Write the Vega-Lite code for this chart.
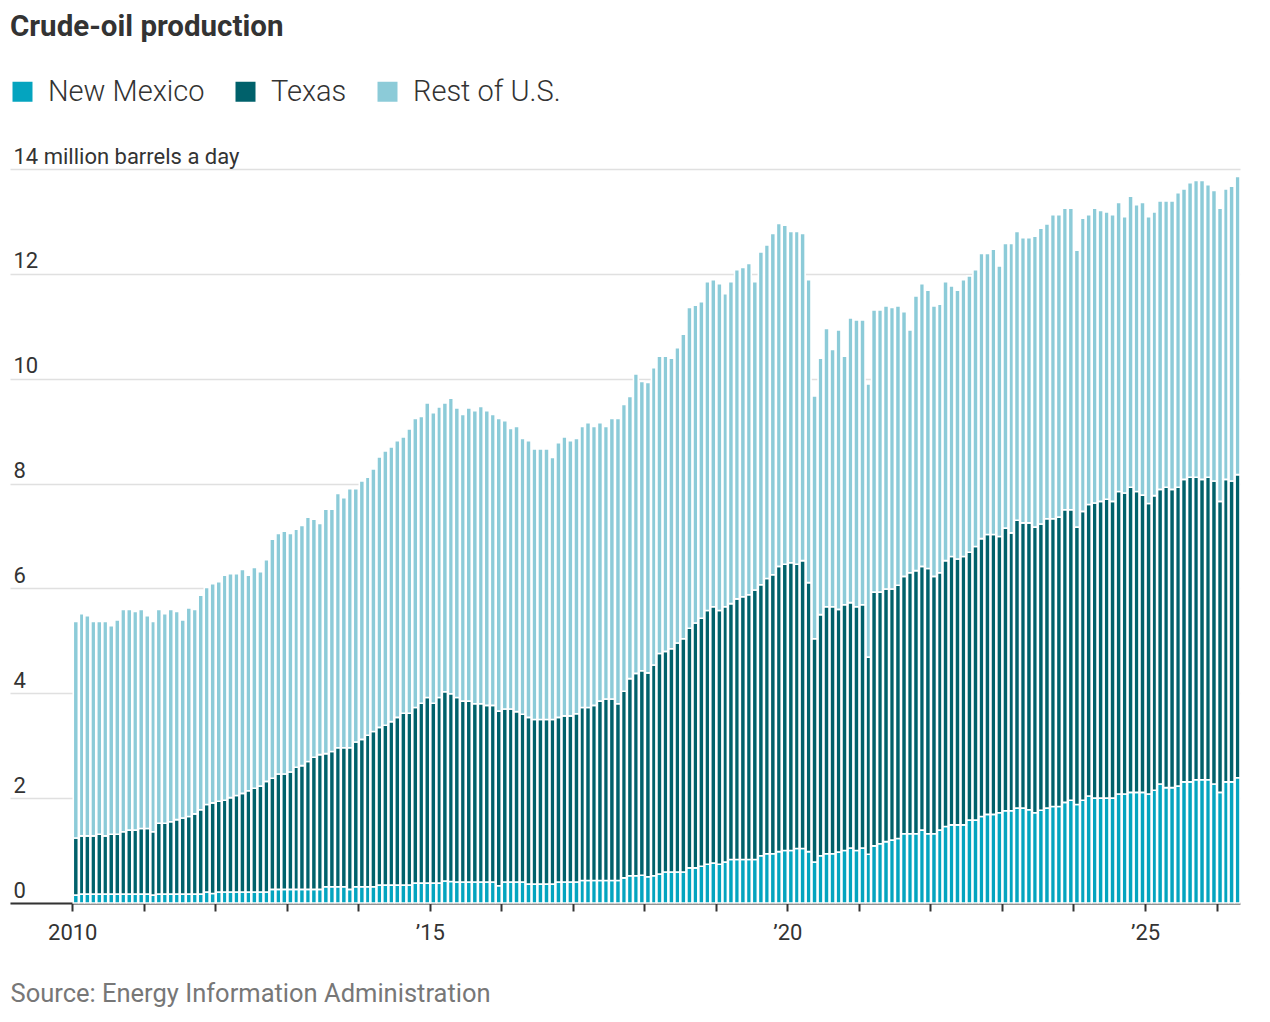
{
  "$schema": "https://vega.github.io/schema/vega-lite/v6.json",
  "width": 1230,
  "height": 734,
  "autosize": {"type": "none"},
  "padding": {"left": 10, "top": 169, "right": 30, "bottom": 119},
  "background": "white",
  "title": {
    "text": "Crude-oil production",
    "anchor": "start",
    "frame": "group",
    "font": "Roboto",
    "fontSize": 29.5,
    "fontWeight": "bold",
    "color": "#333333",
    "offset": 35
  },
  "config": {
    "view": {"stroke": null},
    "font": "Roboto"
  },
  "data": {
    "values": [
      {"d": "2010-01-01", "nm": 0.15, "tx": 1.09, "us": 4.13},
      {"d": "2010-02-01", "nm": 0.17, "tx": 1.11, "us": 4.24},
      {"d": "2010-03-01", "nm": 0.17, "tx": 1.11, "us": 4.20},
      {"d": "2010-04-01", "nm": 0.17, "tx": 1.11, "us": 4.09},
      {"d": "2010-05-01", "nm": 0.17, "tx": 1.14, "us": 4.06},
      {"d": "2010-06-01", "nm": 0.17, "tx": 1.11, "us": 4.09},
      {"d": "2010-07-01", "nm": 0.17, "tx": 1.14, "us": 3.98},
      {"d": "2010-08-01", "nm": 0.17, "tx": 1.14, "us": 4.09},
      {"d": "2010-09-01", "nm": 0.17, "tx": 1.19, "us": 4.24},
      {"d": "2010-10-01", "nm": 0.17, "tx": 1.22, "us": 4.21},
      {"d": "2010-11-01", "nm": 0.17, "tx": 1.22, "us": 4.17},
      {"d": "2010-12-01", "nm": 0.17, "tx": 1.25, "us": 4.18},
      {"d": "2011-01-01", "nm": 0.17, "tx": 1.25, "us": 4.06},
      {"d": "2011-02-01", "nm": 0.15, "tx": 1.21, "us": 4.01},
      {"d": "2011-03-01", "nm": 0.17, "tx": 1.35, "us": 4.08},
      {"d": "2011-04-01", "nm": 0.17, "tx": 1.35, "us": 4.00},
      {"d": "2011-05-01", "nm": 0.17, "tx": 1.38, "us": 4.05},
      {"d": "2011-06-01", "nm": 0.17, "tx": 1.42, "us": 3.97},
      {"d": "2011-07-01", "nm": 0.17, "tx": 1.45, "us": 3.78},
      {"d": "2011-08-01", "nm": 0.17, "tx": 1.48, "us": 3.98},
      {"d": "2011-09-01", "nm": 0.17, "tx": 1.53, "us": 3.90},
      {"d": "2011-10-01", "nm": 0.17, "tx": 1.61, "us": 4.09},
      {"d": "2011-11-01", "nm": 0.21, "tx": 1.67, "us": 4.14},
      {"d": "2011-12-01", "nm": 0.18, "tx": 1.73, "us": 4.18},
      {"d": "2012-01-01", "nm": 0.21, "tx": 1.73, "us": 4.19},
      {"d": "2012-02-01", "nm": 0.21, "tx": 1.75, "us": 4.29},
      {"d": "2012-03-01", "nm": 0.21, "tx": 1.80, "us": 4.27},
      {"d": "2012-04-01", "nm": 0.21, "tx": 1.84, "us": 4.23},
      {"d": "2012-05-01", "nm": 0.21, "tx": 1.88, "us": 4.27},
      {"d": "2012-06-01", "nm": 0.21, "tx": 1.93, "us": 4.11},
      {"d": "2012-07-01", "nm": 0.21, "tx": 1.98, "us": 4.21},
      {"d": "2012-08-01", "nm": 0.21, "tx": 2.02, "us": 4.09},
      {"d": "2012-09-01", "nm": 0.21, "tx": 2.11, "us": 4.23},
      {"d": "2012-10-01", "nm": 0.26, "tx": 2.12, "us": 4.56},
      {"d": "2012-11-01", "nm": 0.26, "tx": 2.20, "us": 4.59},
      {"d": "2012-12-01", "nm": 0.26, "tx": 2.20, "us": 4.63},
      {"d": "2013-01-01", "nm": 0.26, "tx": 2.24, "us": 4.55},
      {"d": "2013-02-01", "nm": 0.26, "tx": 2.33, "us": 4.54},
      {"d": "2013-03-01", "nm": 0.26, "tx": 2.36, "us": 4.58},
      {"d": "2013-04-01", "nm": 0.26, "tx": 2.44, "us": 4.66},
      {"d": "2013-05-01", "nm": 0.26, "tx": 2.52, "us": 4.54},
      {"d": "2013-06-01", "nm": 0.26, "tx": 2.57, "us": 4.41},
      {"d": "2013-07-01", "nm": 0.31, "tx": 2.54, "us": 4.66},
      {"d": "2013-08-01", "nm": 0.31, "tx": 2.58, "us": 4.62},
      {"d": "2013-09-01", "nm": 0.31, "tx": 2.65, "us": 4.85},
      {"d": "2013-10-01", "nm": 0.31, "tx": 2.65, "us": 4.77},
      {"d": "2013-11-01", "nm": 0.26, "tx": 2.70, "us": 4.94},
      {"d": "2013-12-01", "nm": 0.31, "tx": 2.76, "us": 4.83},
      {"d": "2014-01-01", "nm": 0.31, "tx": 2.81, "us": 4.93},
      {"d": "2014-02-01", "nm": 0.31, "tx": 2.89, "us": 4.92},
      {"d": "2014-03-01", "nm": 0.31, "tx": 2.96, "us": 5.01},
      {"d": "2014-04-01", "nm": 0.34, "tx": 3.01, "us": 5.16},
      {"d": "2014-05-01", "nm": 0.34, "tx": 3.05, "us": 5.23},
      {"d": "2014-06-01", "nm": 0.34, "tx": 3.12, "us": 5.24},
      {"d": "2014-07-01", "nm": 0.34, "tx": 3.20, "us": 5.28},
      {"d": "2014-08-01", "nm": 0.34, "tx": 3.28, "us": 5.27},
      {"d": "2014-09-01", "nm": 0.34, "tx": 3.28, "us": 5.42},
      {"d": "2014-10-01", "nm": 0.38, "tx": 3.35, "us": 5.51},
      {"d": "2014-11-01", "nm": 0.38, "tx": 3.43, "us": 5.47},
      {"d": "2014-12-01", "nm": 0.38, "tx": 3.54, "us": 5.62},
      {"d": "2015-01-01", "nm": 0.38, "tx": 3.43, "us": 5.54},
      {"d": "2015-02-01", "nm": 0.38, "tx": 3.54, "us": 5.54},
      {"d": "2015-03-01", "nm": 0.42, "tx": 3.61, "us": 5.51},
      {"d": "2015-04-01", "nm": 0.41, "tx": 3.58, "us": 5.64},
      {"d": "2015-05-01", "nm": 0.40, "tx": 3.52, "us": 5.52},
      {"d": "2015-06-01", "nm": 0.40, "tx": 3.45, "us": 5.47},
      {"d": "2015-07-01", "nm": 0.40, "tx": 3.45, "us": 5.59},
      {"d": "2015-08-01", "nm": 0.40, "tx": 3.40, "us": 5.59},
      {"d": "2015-09-01", "nm": 0.40, "tx": 3.40, "us": 5.67},
      {"d": "2015-10-01", "nm": 0.40, "tx": 3.37, "us": 5.62},
      {"d": "2015-11-01", "nm": 0.40, "tx": 3.37, "us": 5.55},
      {"d": "2015-12-01", "nm": 0.33, "tx": 3.33, "us": 5.58},
      {"d": "2016-01-01", "nm": 0.40, "tx": 3.30, "us": 5.50},
      {"d": "2016-02-01", "nm": 0.40, "tx": 3.30, "us": 5.35},
      {"d": "2016-03-01", "nm": 0.40, "tx": 3.25, "us": 5.44},
      {"d": "2016-04-01", "nm": 0.40, "tx": 3.20, "us": 5.26},
      {"d": "2016-05-01", "nm": 0.36, "tx": 3.18, "us": 5.28},
      {"d": "2016-06-01", "nm": 0.36, "tx": 3.14, "us": 5.16},
      {"d": "2016-07-01", "nm": 0.36, "tx": 3.14, "us": 5.16},
      {"d": "2016-08-01", "nm": 0.36, "tx": 3.14, "us": 5.16},
      {"d": "2016-09-01", "nm": 0.36, "tx": 3.14, "us": 5.00},
      {"d": "2016-10-01", "nm": 0.40, "tx": 3.14, "us": 5.24},
      {"d": "2016-11-01", "nm": 0.40, "tx": 3.17, "us": 5.32},
      {"d": "2016-12-01", "nm": 0.40, "tx": 3.17, "us": 5.25},
      {"d": "2017-01-01", "nm": 0.40, "tx": 3.21, "us": 5.25},
      {"d": "2017-02-01", "nm": 0.43, "tx": 3.30, "us": 5.36},
      {"d": "2017-03-01", "nm": 0.43, "tx": 3.30, "us": 5.43},
      {"d": "2017-04-01", "nm": 0.43, "tx": 3.34, "us": 5.32},
      {"d": "2017-05-01", "nm": 0.43, "tx": 3.42, "us": 5.31},
      {"d": "2017-06-01", "nm": 0.43, "tx": 3.46, "us": 5.20},
      {"d": "2017-07-01", "nm": 0.43, "tx": 3.46, "us": 5.35},
      {"d": "2017-08-01", "nm": 0.43, "tx": 3.37, "us": 5.44},
      {"d": "2017-09-01", "nm": 0.48, "tx": 3.56, "us": 5.47},
      {"d": "2017-10-01", "nm": 0.52, "tx": 3.76, "us": 5.38},
      {"d": "2017-11-01", "nm": 0.52, "tx": 3.86, "us": 5.71},
      {"d": "2017-12-01", "nm": 0.53, "tx": 3.90, "us": 5.52},
      {"d": "2018-01-01", "nm": 0.50, "tx": 3.89, "us": 5.54},
      {"d": "2018-02-01", "nm": 0.52, "tx": 4.02, "us": 5.67},
      {"d": "2018-03-01", "nm": 0.55, "tx": 4.21, "us": 5.67},
      {"d": "2018-04-01", "nm": 0.59, "tx": 4.21, "us": 5.63},
      {"d": "2018-05-01", "nm": 0.59, "tx": 4.26, "us": 5.54},
      {"d": "2018-06-01", "nm": 0.59, "tx": 4.37, "us": 5.63},
      {"d": "2018-07-01", "nm": 0.59, "tx": 4.45, "us": 5.81},
      {"d": "2018-08-01", "nm": 0.67, "tx": 4.57, "us": 6.12},
      {"d": "2018-09-01", "nm": 0.67, "tx": 4.67, "us": 6.06},
      {"d": "2018-10-01", "nm": 0.70, "tx": 4.73, "us": 6.04},
      {"d": "2018-11-01", "nm": 0.74, "tx": 4.84, "us": 6.27},
      {"d": "2018-12-01", "nm": 0.76, "tx": 4.89, "us": 6.24},
      {"d": "2019-01-01", "nm": 0.74, "tx": 4.84, "us": 6.23},
      {"d": "2019-02-01", "nm": 0.78, "tx": 4.87, "us": 5.97},
      {"d": "2019-03-01", "nm": 0.83, "tx": 4.88, "us": 6.14},
      {"d": "2019-04-01", "nm": 0.83, "tx": 4.97, "us": 6.28},
      {"d": "2019-05-01", "nm": 0.83, "tx": 5.01, "us": 6.28},
      {"d": "2019-06-01", "nm": 0.83, "tx": 5.05, "us": 6.32},
      {"d": "2019-07-01", "nm": 0.83, "tx": 5.14, "us": 5.88},
      {"d": "2019-08-01", "nm": 0.90, "tx": 5.17, "us": 6.35},
      {"d": "2019-09-01", "nm": 0.94, "tx": 5.25, "us": 6.36},
      {"d": "2019-10-01", "nm": 0.94, "tx": 5.32, "us": 6.51},
      {"d": "2019-11-01", "nm": 0.98, "tx": 5.44, "us": 6.54},
      {"d": "2019-12-01", "nm": 1.00, "tx": 5.46, "us": 6.47},
      {"d": "2020-01-01", "nm": 1.00, "tx": 5.49, "us": 6.32},
      {"d": "2020-02-01", "nm": 1.04, "tx": 5.42, "us": 6.35},
      {"d": "2020-03-01", "nm": 1.04, "tx": 5.49, "us": 6.24},
      {"d": "2020-04-01", "nm": 0.98, "tx": 5.13, "us": 5.78},
      {"d": "2020-05-01", "nm": 0.78, "tx": 4.26, "us": 4.63},
      {"d": "2020-06-01", "nm": 0.90, "tx": 4.60, "us": 4.89},
      {"d": "2020-07-01", "nm": 0.94, "tx": 4.71, "us": 5.31},
      {"d": "2020-08-01", "nm": 0.94, "tx": 4.71, "us": 4.91},
      {"d": "2020-09-01", "nm": 0.97, "tx": 4.63, "us": 5.33},
      {"d": "2020-10-01", "nm": 1.00, "tx": 4.69, "us": 4.74},
      {"d": "2020-11-01", "nm": 1.05, "tx": 4.68, "us": 5.43},
      {"d": "2020-12-01", "nm": 1.00, "tx": 4.65, "us": 5.47},
      {"d": "2021-01-01", "nm": 1.05, "tx": 4.64, "us": 5.43},
      {"d": "2021-02-01", "nm": 0.93, "tx": 3.76, "us": 5.21},
      {"d": "2021-03-01", "nm": 1.09, "tx": 4.84, "us": 5.38},
      {"d": "2021-04-01", "nm": 1.13, "tx": 4.80, "us": 5.38},
      {"d": "2021-05-01", "nm": 1.17, "tx": 4.82, "us": 5.40},
      {"d": "2021-06-01", "nm": 1.20, "tx": 4.79, "us": 5.37},
      {"d": "2021-07-01", "nm": 1.23, "tx": 4.83, "us": 5.33},
      {"d": "2021-08-01", "nm": 1.32, "tx": 4.91, "us": 5.05},
      {"d": "2021-09-01", "nm": 1.32, "tx": 4.98, "us": 4.63},
      {"d": "2021-10-01", "nm": 1.32, "tx": 5.02, "us": 5.24},
      {"d": "2021-11-01", "nm": 1.39, "tx": 5.03, "us": 5.39},
      {"d": "2021-12-01", "nm": 1.32, "tx": 5.06, "us": 5.31},
      {"d": "2022-01-01", "nm": 1.32, "tx": 4.91, "us": 5.16},
      {"d": "2022-02-01", "nm": 1.39, "tx": 4.91, "us": 5.12},
      {"d": "2022-03-01", "nm": 1.46, "tx": 5.07, "us": 5.32},
      {"d": "2022-04-01", "nm": 1.49, "tx": 5.12, "us": 5.16},
      {"d": "2022-05-01", "nm": 1.49, "tx": 5.07, "us": 5.13},
      {"d": "2022-06-01", "nm": 1.49, "tx": 5.12, "us": 5.28},
      {"d": "2022-07-01", "nm": 1.58, "tx": 5.11, "us": 5.27},
      {"d": "2022-08-01", "nm": 1.58, "tx": 5.22, "us": 5.28},
      {"d": "2022-09-01", "nm": 1.65, "tx": 5.30, "us": 5.44},
      {"d": "2022-10-01", "nm": 1.69, "tx": 5.34, "us": 5.36},
      {"d": "2022-11-01", "nm": 1.69, "tx": 5.34, "us": 5.44},
      {"d": "2022-12-01", "nm": 1.72, "tx": 5.27, "us": 5.16},
      {"d": "2023-01-01", "nm": 1.76, "tx": 5.39, "us": 5.43},
      {"d": "2023-02-01", "nm": 1.76, "tx": 5.30, "us": 5.52},
      {"d": "2023-03-01", "nm": 1.81, "tx": 5.49, "us": 5.51},
      {"d": "2023-04-01", "nm": 1.81, "tx": 5.44, "us": 5.44},
      {"d": "2023-05-01", "nm": 1.78, "tx": 5.47, "us": 5.44},
      {"d": "2023-06-01", "nm": 1.72, "tx": 5.45, "us": 5.55},
      {"d": "2023-07-01", "nm": 1.77, "tx": 5.46, "us": 5.64},
      {"d": "2023-08-01", "nm": 1.81, "tx": 5.52, "us": 5.62},
      {"d": "2023-09-01", "nm": 1.84, "tx": 5.49, "us": 5.80},
      {"d": "2023-10-01", "nm": 1.84, "tx": 5.52, "us": 5.77},
      {"d": "2023-11-01", "nm": 1.92, "tx": 5.58, "us": 5.75},
      {"d": "2023-12-01", "nm": 1.96, "tx": 5.54, "us": 5.75},
      {"d": "2024-01-01", "nm": 1.88, "tx": 5.29, "us": 5.28},
      {"d": "2024-02-01", "nm": 1.96, "tx": 5.51, "us": 5.59},
      {"d": "2024-03-01", "nm": 2.04, "tx": 5.56, "us": 5.53},
      {"d": "2024-04-01", "nm": 2.00, "tx": 5.63, "us": 5.62},
      {"d": "2024-05-01", "nm": 2.00, "tx": 5.66, "us": 5.55},
      {"d": "2024-06-01", "nm": 2.00, "tx": 5.70, "us": 5.48},
      {"d": "2024-07-01", "nm": 2.00, "tx": 5.66, "us": 5.47},
      {"d": "2024-08-01", "nm": 2.08, "tx": 5.77, "us": 5.51},
      {"d": "2024-09-01", "nm": 2.08, "tx": 5.74, "us": 5.27},
      {"d": "2024-10-01", "nm": 2.11, "tx": 5.82, "us": 5.55},
      {"d": "2024-11-01", "nm": 2.11, "tx": 5.74, "us": 5.47},
      {"d": "2024-12-01", "nm": 2.11, "tx": 5.67, "us": 5.58},
      {"d": "2025-01-01", "nm": 2.08, "tx": 5.54, "us": 5.47},
      {"d": "2025-02-01", "nm": 2.15, "tx": 5.62, "us": 5.41},
      {"d": "2025-03-01", "nm": 2.27, "tx": 5.62, "us": 5.50},
      {"d": "2025-04-01", "nm": 2.20, "tx": 5.73, "us": 5.46},
      {"d": "2025-05-01", "nm": 2.20, "tx": 5.69, "us": 5.50},
      {"d": "2025-06-01", "nm": 2.23, "tx": 5.70, "us": 5.62},
      {"d": "2025-07-01", "nm": 2.31, "tx": 5.77, "us": 5.54},
      {"d": "2025-08-01", "nm": 2.31, "tx": 5.81, "us": 5.62},
      {"d": "2025-09-01", "nm": 2.35, "tx": 5.77, "us": 5.66},
      {"d": "2025-10-01", "nm": 2.35, "tx": 5.73, "us": 5.70},
      {"d": "2025-11-01", "nm": 2.35, "tx": 5.77, "us": 5.58},
      {"d": "2025-12-01", "nm": 2.27, "tx": 5.78, "us": 5.54},
      {"d": "2026-01-01", "nm": 2.11, "tx": 5.55, "us": 5.59},
      {"d": "2026-02-01", "nm": 2.31, "tx": 5.77, "us": 5.54},
      {"d": "2026-03-01", "nm": 2.31, "tx": 5.74, "us": 5.62},
      {"d": "2026-04-01", "nm": 2.39, "tx": 5.78, "us": 5.69}
    ]
  },
  "transform": [
    {"fold": ["nm", "tx", "us"], "as": ["k", "v"]}
  ],
  "mark": {"type": "bar", "stroke": "white", "strokeWidth": 1.6},
  "encoding": {
    "x": {
      "field": "d",
      "timeUnit": "utcyearmonth",
      "type": "temporal",
      "scale": {
        "domain": [
          {"year": 2009, "month": 2, "date": 17, "utc": true},
          {"year": 2026, "month": 5, "date": 1, "utc": true}
        ]
      },
      "axis": {
        "values": [
          {"year": 2010, "month": 1, "date": 1, "utc": true},
          {"year": 2011, "month": 1, "date": 1, "utc": true},
          {"year": 2012, "month": 1, "date": 1, "utc": true},
          {"year": 2013, "month": 1, "date": 1, "utc": true},
          {"year": 2014, "month": 1, "date": 1, "utc": true},
          {"year": 2015, "month": 1, "date": 1, "utc": true},
          {"year": 2016, "month": 1, "date": 1, "utc": true},
          {"year": 2017, "month": 1, "date": 1, "utc": true},
          {"year": 2018, "month": 1, "date": 1, "utc": true},
          {"year": 2019, "month": 1, "date": 1, "utc": true},
          {"year": 2020, "month": 1, "date": 1, "utc": true},
          {"year": 2021, "month": 1, "date": 1, "utc": true},
          {"year": 2022, "month": 1, "date": 1, "utc": true},
          {"year": 2023, "month": 1, "date": 1, "utc": true},
          {"year": 2024, "month": 1, "date": 1, "utc": true},
          {"year": 2025, "month": 1, "date": 1, "utc": true},
          {"year": 2026, "month": 1, "date": 1, "utc": true}
        ],
        "labelExpr": "utcyear(datum.value) == 2010 ? '2010' : (utcyear(datum.value) % 5 == 0 ? '’' + substring(toString(utcyear(datum.value)), 2, 4) : '')",
        "labelFont": "Roboto",
        "labelFontSize": 22,
        "labelColor": "#333333",
        "labelPadding": 11,
        "labelFlush": false,
        "labelOverlap": false,
        "domainColor": "#333333",
        "domainWidth": 2,
        "tickColor": "#333333",
        "tickWidth": 2,
        "tickSize": 8,
        "grid": false,
        "title": "Source: Energy Information Administration",
        "titleFont": "Roboto",
        "titleFontSize": 25.5,
        "titleFontWeight": "normal",
        "titleColor": "#777777",
        "titleAnchor": "start",
        "titleAlign": "left",
        "titleBaseline": "alphabetic",
        "titleX": 0,
        "titleY": 98
      }
    },
    "y": {
      "field": "v",
      "type": "quantitative",
      "stack": "zero",
      "scale": {"domain": [0, 14], "nice": false},
      "axis": {
        "values": [0, 2, 4, 6, 8, 10, 12, 14],
        "labelExpr": "datum.value == 14 ? '14 million barrels a day' : datum.label",
        "labelFont": "Roboto",
        "labelFontSize": 22,
        "labelColor": "#333333",
        "labelAlign": "left",
        "labelBaseline": "alphabetic",
        "labelOffset": -6,
        "labelPadding": -3,
        "labelLimit": 500,
        "labelFlush": false,
        "labelOverlap": false,
        "ticks": false,
        "domain": false,
        "grid": true,
        "gridColor": "#e0e0e0",
        "gridWidth": 1.5,
        "title": null
      }
    },
    "color": {
      "field": "k",
      "type": "nominal",
      "scale": {
        "domain": ["nm", "tx", "us"],
        "range": ["#04a4bf", "#00616b", "#8ccbd8"]
      },
      "legend": {
        "title": null,
        "orient": "none",
        "direction": "horizontal",
        "legendX": -2,
        "legendY": -92,
        "symbolType": "square",
        "symbolSize": 400,
        "symbolStrokeWidth": 0,
        "symbolOpacity": 1,
        "labelExpr": "datum.label == 'nm' ? 'New Mexico' : (datum.label == 'tx' ? 'Texas' : 'Rest of U.S.')",
        "labelFont": "Roboto",
        "labelFontSize": 29,
        "labelFontWeight": 300,
        "labelColor": "#333333",
        "labelOffset": 11,
        "columnPadding": 26
      }
    },
    "order": {"field": "k", "sort": "ascending"}
  }
}
